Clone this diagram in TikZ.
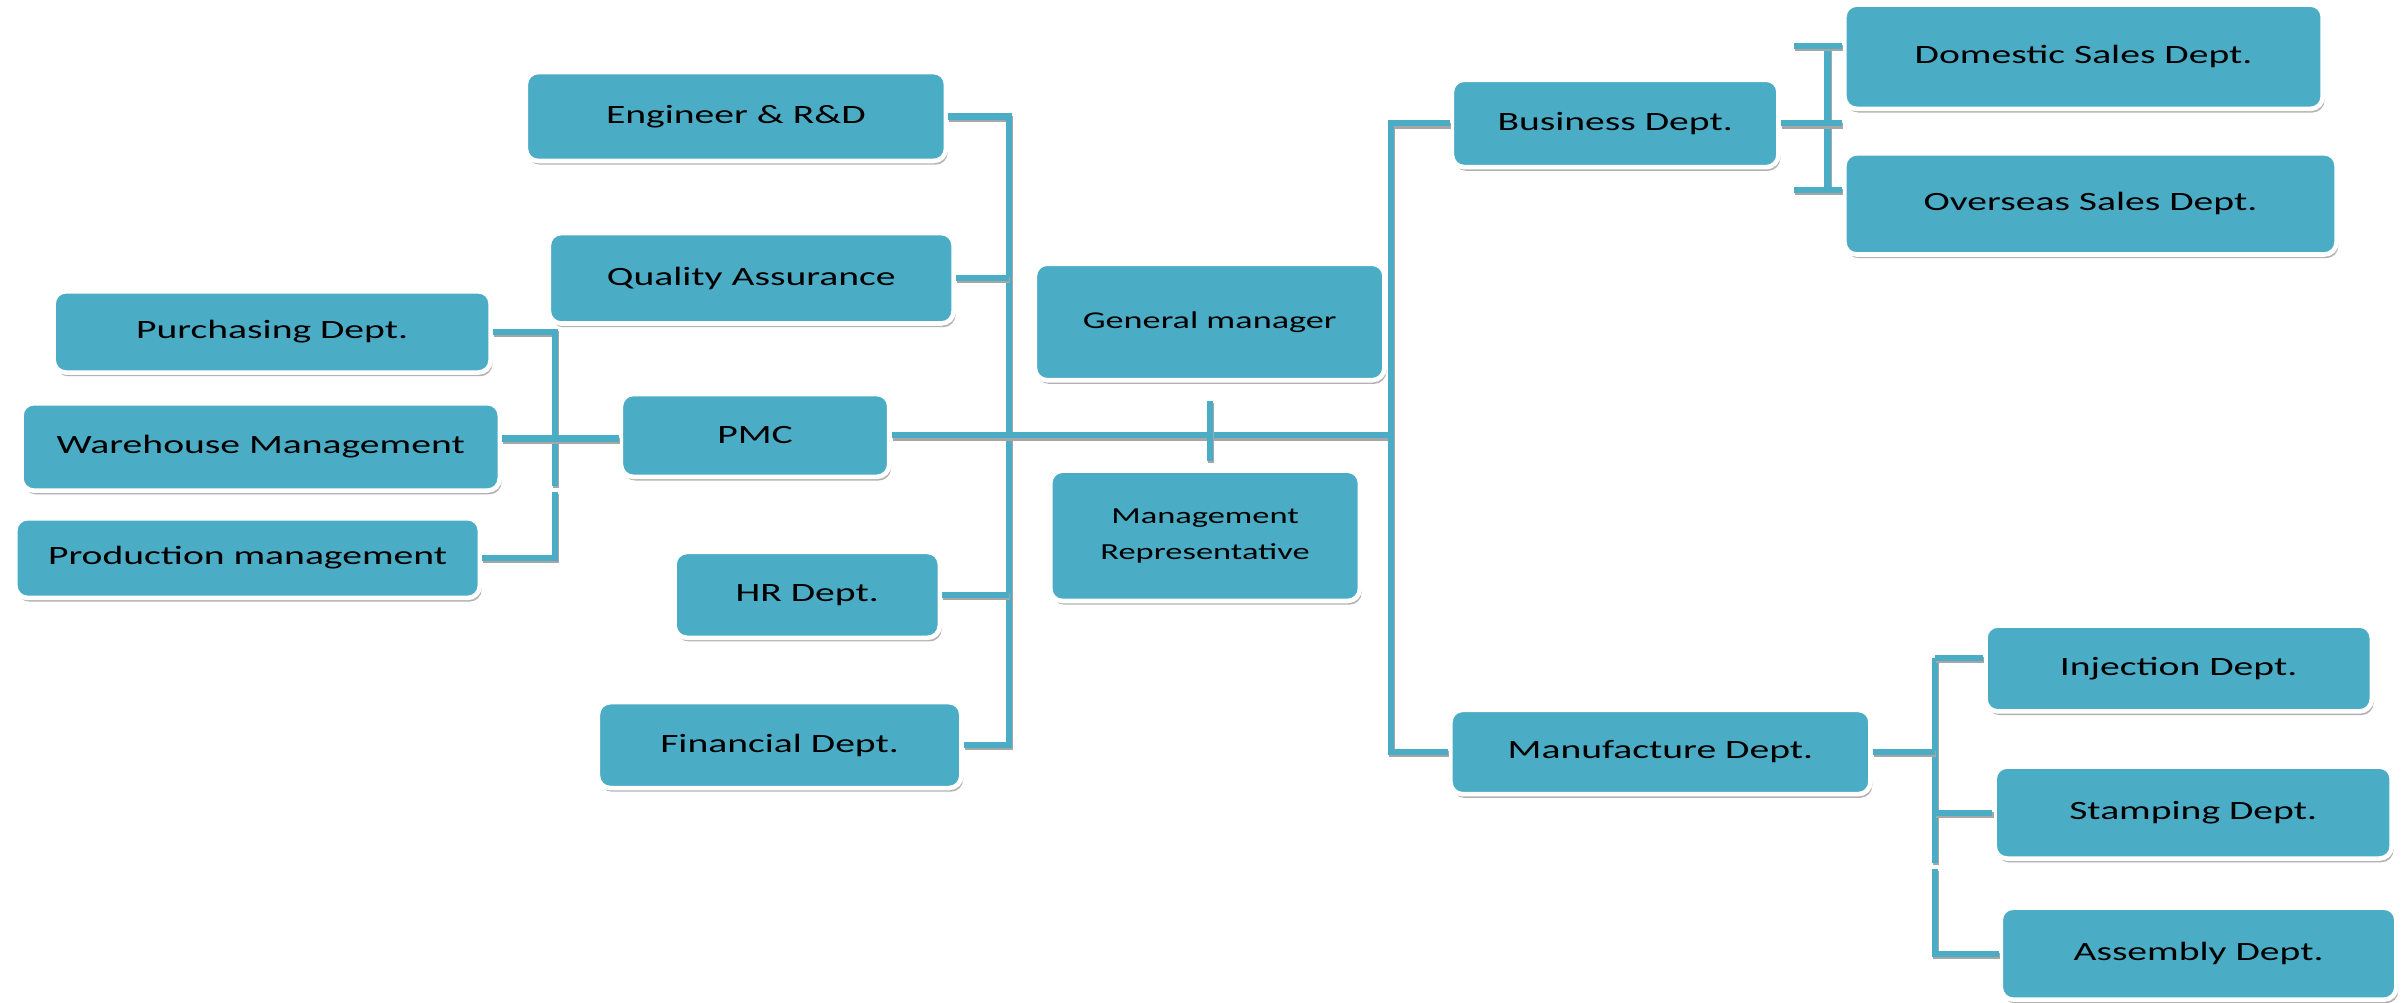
\documentclass[tikz,border=0pt]{standalone}
\usepackage{fontspec}
\setmainfont{Carlito}[FakeStretch=1.5]
\usetikzlibrary{shadows}
\definecolor{accent}{HTML}{4BACC6}
\begin{document}
\begin{tikzpicture}[x=0.5mm,y=-0.5mm,
 box/.style={rounded corners=4mm, fill=accent, draw=white, line width=1.5mm,
   drop shadow={shadow xshift=0.6mm, shadow yshift=-1.2mm, fill=black!30, opacity=1},
   text=black, font=\fontsize{24.5}{28}\selectfont, inner sep=0pt, align=center},
 sz/.style 2 args={minimum width=#1*0.5mm, minimum height=#2*0.5mm},
 conn/.style={draw=accent, line width=2mm, line join=miter,
   preaction={draw=black!35, line width=2mm, transform canvas={shift={(0.4mm,-0.7mm)}}}}]
\useasboundingbox (0,0) rectangle (1568,654);

\node[box, sz={274}{58}] (eng) at (480,76) {Engineer \& R\&D};
\node[box, sz={264}{59}] (qa) at (490,181.5) {Quality Assurance};
\node[box, sz={285}{53}] (pur) at (177.5,216.5) {Purchasing Dept.};
\node[box, sz={312}{57}] (war) at (170,291.5) {Warehouse Management};
\node[box, sz={303}{52}] (prod) at (161.5,364) {Production management};
\node[box, sz={175}{54}] (pmc) at (492.5,284) {PMC};
\node[box, sz={173}{56}] (hr) at (526.5,388) {HR Dept.};
\node[box, sz={237}{56}] (fin) at (508.5,486) {Financial Dept.};
\node[box, sz={228}{76}, font=\fontsize{22.4}{26}\selectfont] (gm) at (789,210) {General manager};
\node[box, sz={202}{85}, font=\fontsize{21.3}{34}\selectfont] (mr) at (786,349.5) {Management\\Representative};
\node[box, sz={213}{57}] (bus) at (1053.5,80.5) {Business Dept.};
\node[box, sz={312}{68}] (dom) at (1359,37) {Domestic Sales Dept.};
\node[box, sz={321}{66}] (ovs) at (1363.5,133) {Overseas Sales Dept.};
\node[box, sz={274}{55}] (man) at (1083,490.5) {Manufacture Dept.};
\node[box, sz={252}{56}] (inj) at (1421,436) {Injection Dept.};
\node[box, sz={259}{60}] (stp) at (1430.5,530) {Stamping Dept.};
\node[box, sz={258}{60}] (asm) at (1434,622) {Assembly Dept.};

\coordinate (lx) at (658,0);
\coordinate (rx) at (907,0);
\coordinate (gx) at (362,0);
\coordinate (bx) at (1192,0);
\coordinate (mx) at (1262,0);
\coordinate (wy) at (0,286);

% left bus
\draw[conn] (eng.east) -- (eng.east -| lx) -- (fin.east -| lx) -- (fin.east);
\draw[conn] (qa.east) -- (qa.east -| lx);
\draw[conn] (hr.east) -- (hr.east -| lx);
\draw[conn] (pmc.east) -- (pmc.east -| rx);
% right bus
\draw[conn] (bus.west) -- (bus.west -| rx) -- (man.west -| rx) -- (man.west);
\draw[conn, shorten <=6mm, shorten >=2.5mm] (gm.south) -- (gm.south |- mr.north);
% left group
\coordinate (gap1) at (362,317);
\coordinate (gap2) at (362,321);
\draw[conn] (pur.east) -- (pur.east -| gx) -- (gap1);
\draw[conn] (prod.east) -- (prod.east -| gx) -- (gap2);
\draw[conn] (war.east |- wy) -- (pmc.west |- wy);
% business group
\coordinate (bt) at (1170,30);
\coordinate (bb) at (1170,124);
\draw[conn] (bt -| bx) -- (bb -| bx);
\draw[conn] (bt) -- (bt -| dom.west);
\draw[conn] (bb) -- (bb -| ovs.west);
\draw[conn] (bus.east) -- (bus.east -| dom.west);
% manufacture group
\coordinate (mt) at (1262,429);
\coordinate (mg1) at (1262,563);
\coordinate (mg2) at (1262,567);
\draw[conn] (mt) -- (mg1);
\draw[conn] (mg2) -- (asm.west -| mx) -- (asm.west);
\draw[conn] (mt) -- (mt -| inj.west);
\draw[conn] (stp.west) -- (stp.west -| mx);
\draw[conn] (man.east) -- (man.east -| mx);
\end{tikzpicture}
\end{document}
